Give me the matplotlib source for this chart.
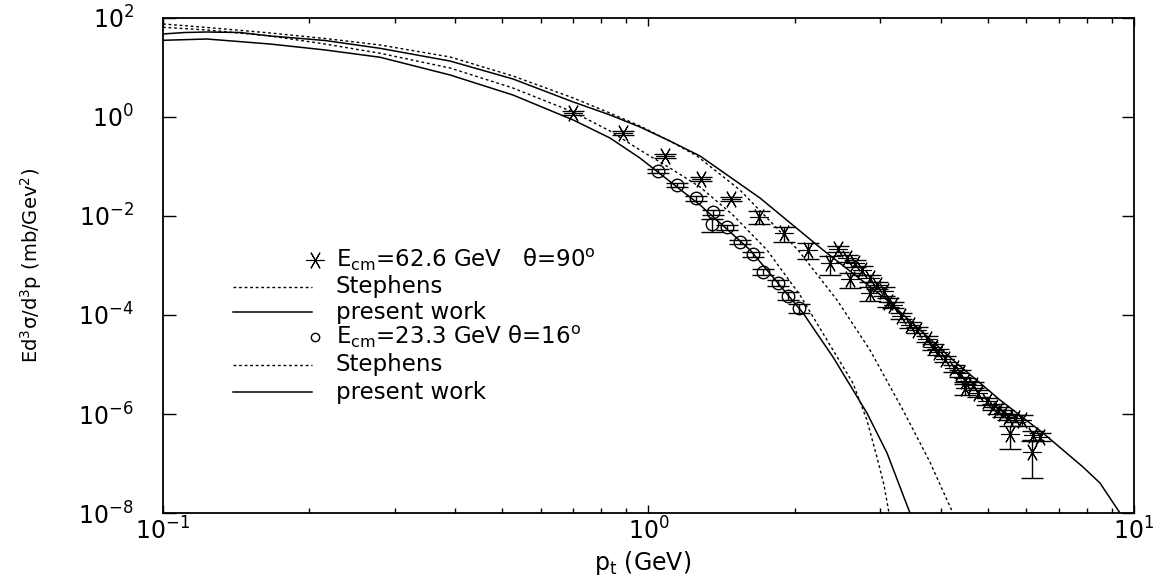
import numpy as np
import matplotlib
matplotlib.use('Agg')
import matplotlib.pyplot as plt
from matplotlib.ticker import NullLocator, LogLocator

plt.rcParams['font.family'] = 'DejaVu Sans'
plt.rcParams['mathtext.fontset'] = 'dejavusans'

###############################################################################
# datos
###############################################################################
# E_cm = 62.6 GeV, theta = 90 (asteriscos)
pt62 = [0.70, 0.887, 1.08, 1.28, 1.48, 1.69, 1.90, 2.13, 2.37, 2.46, 2.56,
        2.60, 2.66, 2.75, 2.86, 2.86, 2.95, 3.05, 3.12, 3.19, 3.32, 3.46,
        3.57, 3.74, 3.86, 3.95, 4.08, 4.25, 4.38, 4.49, 4.49, 4.67, 4.78,
        4.97, 5.13, 5.25, 5.38, 5.51, 5.55, 5.69, 5.87, 6.16, 6.20, 6.40]
y62 = [1.22, 0.48, 0.165, 0.056, 0.022, 0.0097, 0.0045, 0.0021, 0.0011,
       0.0022, 0.0014, 0.00053, 0.0011, 0.00081, 0.00055, 0.00028, 0.00040,
       0.00030, 1.8e-4, 1.6e-4, 9.6e-5, 6.3e-5, 5.0e-5, 3.3e-5, 2.3e-5,
       1.8e-5, 1.3e-5, 8.4e-6, 6.6e-6, 4.7e-6, 3.4e-6, 3.9e-6, 2.6e-6,
       1.8e-6, 1.4e-6, 1.2e-6, 1.03e-6, 8.8e-7, 3.9e-7, 8.2e-7, 7.6e-7,
       1.7e-7, 3.8e-7, 3.5e-7]
err62 = [0.08, 0.08, 0.10, 0.10, 0.10, 0.30, 0.35, 0.35, 0.42, 0.15, 0.15,
         0.34, 0.15, 0.20, 0.15, 0.30, 0.15, 0.20, 0.20, 0.15, 0.15, 0.15,
         0.15, 0.15, 0.15, 0.15, 0.15, 0.15, 0.15, 0.15, 0.30, 0.15, 0.15,
         0.15, 0.15, 0.15, 0.15, 0.15, 0.50, 0.15, 0.25, 0.70, 0.20, 0.20]

# E_cm = 23.3 GeV, theta = 16 (circulos)
pt23 = [1.048, 1.146, 1.251, 1.360, 1.35, 1.449, 1.543, 1.644, 1.723,
        1.846, 1.941, 2.045]
y23 = [0.081, 0.0423, 0.0228, 0.0119, 0.0068, 0.0059, 0.00303, 0.0017,
       0.00075, 0.00045, 0.000242, 0.000136]
err23 = [0.10, 0.10, 0.10, 0.12, 0.30, 0.10, 0.10, 0.12, 0.15, 0.15, 0.18,
         0.20]

# curvas: Stephens (punteada) y present work (continua)
ptSt62 = [0.100, 0.1232, 0.1661, 0.2157, 0.2799, 0.3901, 0.5258, 0.6999,
          0.8332, 0.9605, 1.107, 1.259, 1.543, 2.032, 2.445, 2.859, 3.344,
          3.800, 4.120, 4.239]
ySt62 = [75.7, 64.3, 49.8, 38.5, 28.5, 16.3, 6.73, 2.42, 1.20, 0.658, 0.327,
         0.163, 0.0335, 2.06e-3, 2.01e-4, 1.96e-5, 1.20e-6, 1.07e-7, 1.83e-8,
         1.0e-8]

ptPw62 = [0.100, 0.1110, 0.1232, 0.1441, 0.1661, 0.2157, 0.2799, 0.3901,
          0.5258, 0.6999, 0.8332, 0.9605, 1.107, 1.277, 1.697, 2.288, 3.100,
          4.239, 5.297, 6.494, 7.852, 8.511, 9.359]
yPw62 = [47.5, 50.9, 52.1, 50.9, 43.3, 35.1, 24.4, 13.5, 5.86, 2.01, 1.10,
         0.628, 0.327, 0.163, 0.0231, 2.06e-3, 2.01e-4, 1.23e-5, 1.92e-6,
         4.13e-7, 8.5e-8, 4.04e-8, 1.0e-8]

ptSt23 = [0.100, 0.1232, 0.1661, 0.2157, 0.2799, 0.3901, 0.5258, 0.6999,
          0.8332, 0.9605, 1.107, 1.277, 1.493, 1.754, 2.051, 2.399, 2.637,
          2.818, 2.955, 3.056, 3.129]
ySt23 = [64.9, 57.2, 43.3, 29.8, 19.4, 9.77, 3.85, 1.26, 0.521, 0.215,
         0.0933, 0.0385, 0.01047, 2.06e-3, 2.54e-4, 1.96e-5, 4.23e-6,
         7.57e-7, 1.35e-7, 3.68e-8, 1.0e-8]

ptPw23 = [0.100, 0.1232, 0.1661, 0.2157, 0.2799, 0.3901, 0.5258, 0.6999,
          0.8332, 0.9605, 1.277, 1.619, 2.081, 2.256, 2.399, 2.818, 3.100,
          3.376, 3.457]
yPw23 = [35.4, 37.6, 29.8, 22.6, 16.1, 7.06, 2.78, 0.870, 0.376, 0.148,
         0.0167, 2.06e-3, 1.10e-4, 3.43e-5, 1.42e-5, 1.05e-6, 1.63e-7,
         1.83e-8, 1.0e-8]

###############################################################################
fig = plt.figure(figsize=(11.61, 5.80), dpi=100)
ax = fig.add_axes([0.1404, 0.1155, 0.8363, 0.8535])

dots = (0, (2, 2))
ax.plot(ptSt62, ySt62, color='black', lw=1.0, ls=dots)
ax.plot(ptPw62, yPw62, color='black', lw=1.1)
ax.plot(ptSt23, ySt23, color='black', lw=1.0, ls=dots)
ax.plot(ptPw23, yPw23, color='black', lw=1.1)

y62a = np.array(y62)
ax.errorbar(pt62, y62, yerr=y62a * np.array(err62), fmt='none',
            ecolor='black', elinewidth=1.0, capsize=8, capthick=1.0)
ax.plot(pt62, y62, ls='none', marker=(6, 2, 90), ms=13, mew=0.8,
        color='black')

y23a = np.array(y23)
ax.errorbar(pt23, y23, yerr=y23a * np.array(err23), fmt='none',
            ecolor='black', elinewidth=1.0, capsize=8, capthick=1.0)
ax.plot(pt23, y23, ls='none', marker='o', ms=9, mfc='none', mew=1.0,
        color='black')

ax.set_xscale('log')
ax.set_yscale('log')
ax.set_xlim(0.1, 10)
ax.set_ylim(1e-8, 1e2)
ax.set_yticks([1e-8, 1e-6, 1e-4, 1e-2, 1e0, 1e2])
ax.yaxis.set_minor_locator(NullLocator())
ax.xaxis.set_minor_locator(LogLocator(base=10, subs=np.arange(2, 10)))

ax.tick_params(which='both', direction='in', top=True, right=True,
               color='black')
ax.tick_params(axis='y', which='major', length=9, width=1, labelsize=17,
               pad=21)
ax.tick_params(axis='x', which='major', length=5.5, width=1, labelsize=17,
               pad=3)
ax.tick_params(axis='x', which='minor', length=3.5, width=1)
for s in ax.spines.values():
    s.set_linewidth(1.3)

ax.set_ylabel(r'Ed$^3$σ/d$^3$p (mb/Gev$^2$)', fontsize=14)
ax.yaxis.set_label_coords(-0.123, 0.5)
ax.set_xlabel(r'p$_{\mathrm{t}}$ (GeV)', fontsize=17)
ax.xaxis.set_label_coords(0.494, -0.073)

# leyenda
tr = ax.transAxes
filas = [0.511, 0.4566, 0.406, 0.3556, 0.299, 0.2444]
x0, x1, xm, xt = 0.0721, 0.1535, 0.1565, 0.178
ax.plot([xm], [filas[0]], transform=tr, ls='none', marker=(6, 2, 90),
        ms=13, mew=0.8, color='black')
ax.plot([xm], [filas[3]], transform=tr, ls='none', marker='o', ms=6,
        mfc='none', mew=1.0, color='black')
for f in (filas[1], filas[4]):
    ax.plot([x0, x1], [f, f], transform=tr, color='black', lw=1.0, ls=dots)
for f in (filas[2], filas[5]):
    ax.plot([x0, x1], [f, f], transform=tr, color='black', lw=1.1)
textos = [r'E$_{\mathrm{cm}}$=62.6 GeV   θ=90$^{\mathrm{o}}$', 'Stephens',
          'present work', r'E$_{\mathrm{cm}}$=23.3 GeV θ=16$^{\mathrm{o}}$',
          'Stephens', 'present work']
for f, t in zip(filas, textos):
    ax.text(xt, f, t, transform=tr, fontsize=16.5, va='center', ha='left')

fig.savefig('out.png', dpi=100)
